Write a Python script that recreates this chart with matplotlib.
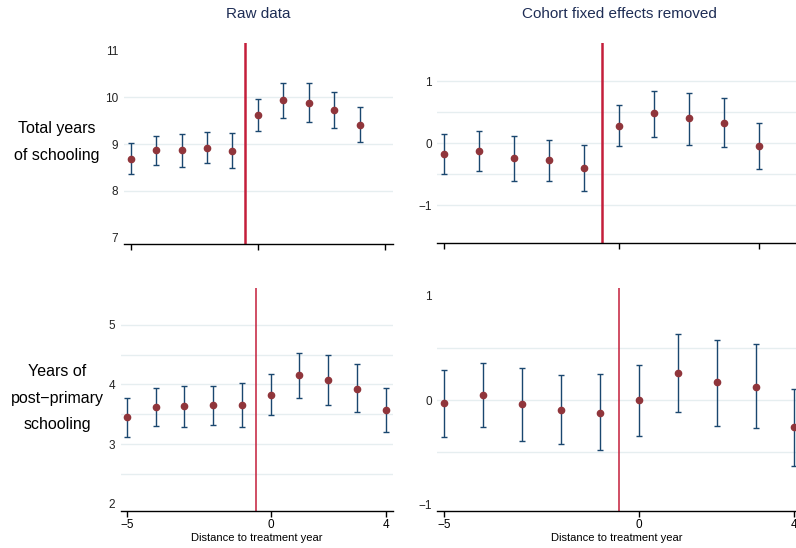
import numpy as np
import matplotlib
matplotlib.use("Agg")
import matplotlib.pyplot as plt

plt.rcParams['font.family'] = ['Liberation Sans', 'DejaVu Sans']

# event time
years = np.arange(-5, 5)

# raw data, total years of schooling
raw_school = [8.69, 8.87, 8.87, 8.92, 8.86, 9.62, 9.94, 9.88, 9.73, 9.42]
raw_school_hi = [9.02, 9.18, 9.22, 9.25, 9.23, 9.96, 10.32, 10.31, 10.12, 9.80]
raw_school_lo = [8.35, 8.55, 8.51, 8.59, 8.49, 9.28, 9.57, 9.47, 9.34, 9.05]

# cohort FE removed, total years of schooling
fe_school = [-0.17, -0.13, -0.24, -0.27, -0.39, 0.28, 0.48, 0.40, 0.33, -0.04]
fe_school_hi = [0.15, 0.19, 0.11, 0.06, -0.02, 0.62, 0.84, 0.81, 0.73, 0.33]
fe_school_lo = [-0.50, -0.44, -0.60, -0.60, -0.76, -0.05, 0.10, -0.02, -0.06, -0.41]

# raw data, post-primary schooling
raw_post = [3.45, 3.63, 3.64, 3.66, 3.66, 3.83, 4.16, 4.08, 3.93, 3.58]
raw_post_hi = [3.78, 3.94, 3.98, 3.98, 4.02, 4.17, 4.53, 4.49, 4.34, 3.94]
raw_post_lo = [3.12, 3.31, 3.29, 3.32, 3.29, 3.49, 3.78, 3.66, 3.54, 3.21]

# cohort FE removed, post-primary schooling
fe_post = [-0.03, 0.05, -0.04, -0.09, -0.12, 0.00, 0.26, 0.17, 0.13, -0.26]
fe_post_hi = [0.29, 0.36, 0.31, 0.24, 0.25, 0.34, 0.63, 0.58, 0.54, 0.11]
fe_post_lo = [-0.35, -0.26, -0.39, -0.42, -0.48, -0.34, -0.11, -0.25, -0.27, -0.63]

NAVY = '#1a476f'
MAROON = '#90353b'
RED = '#c41e3a'
GRID = '#e6eef0'

W, H = 796, 548
fig = plt.figure(figsize=(W / 100, H / 100), dpi=100)


def make_ax(left, right, top, bottom):
    return fig.add_axes([left / W, 1 - bottom / H, (right - left) / W, (bottom - top) / H])


def panel(ax, y, lo, hi, xlim, ylim, yticks, grid, xticks, xlabels, lw_red):
    y = np.array(y)
    err = [y - np.array(lo), np.array(hi) - y]
    ax.set_xlim(*xlim)
    ax.set_ylim(*ylim)
    for g in grid:
        ax.axhline(g, color=GRID, lw=1.0, zorder=0)
    ax.axvline(-0.5, color=RED, lw=lw_red, zorder=1)
    ax.errorbar(years, y, yerr=err, fmt='none', ecolor=NAVY, elinewidth=1.0,
                capsize=2.3, capthick=1.0, zorder=2)
    ax.plot(years, y, 'o', color=MAROON, ms=4.5, zorder=3)
    for s in ['top', 'right', 'left']:
        ax.spines[s].set_visible(False)
    ax.spines['bottom'].set_linewidth(1.0)
    ax.set_yticks(yticks)
    ax.set_yticklabels([str(t).replace('-', '\u2212') for t in yticks])
    ax.tick_params(axis='y', length=0, pad=4, labelsize=8.5, colors='#222222')
    ax.set_xticks(xticks)
    if xlabels:
        ax.set_xticklabels([str(t).replace('-', '\u2212') for t in xticks])
        ax.set_xlabel('Distance to treatment year', fontsize=8, labelpad=1.5)
    else:
        ax.set_xticklabels([])
    ax.tick_params(axis='x', length=4, width=1.0, pad=2, labelsize=8.5)
    ax.patch.set_alpha(0)


ax1 = make_ax(124, 392.7, 43.3, 244)
panel(ax1, raw_school, raw_school_lo, raw_school_hi, (-5.26, 5.29), (6.86, 11.16),
      [7, 8, 9, 10, 11], [8, 9, 10], [-5, 0, 5], False, 1.8)

ax2 = make_ax(437.3, 796, 43.3, 243.3)
panel(ax2, fe_school, fe_school_lo, fe_school_hi, (-5.2, 5.05), (-1.61, 1.61),
      [-1, 0, 1], [-1, -0.5, 0, 0.5, 1], [-5, 0, 4], False, 1.8)

ax3 = make_ax(120.7, 392.7, 288.3, 511)
panel(ax3, raw_post, raw_post_lo, raw_post_hi, (-5.22, 4.25), (1.88, 5.61),
      [2, 3, 4, 5], [2.5, 3, 3.5, 4, 4.5, 5], [-5, 0, 4], True, 1.1)

ax4 = make_ax(437.3, 796, 288.3, 511)
panel(ax4, fe_post, fe_post_lo, fe_post_hi, (-5.18, 4.04), (-1.06, 1.07),
      [-1, 0, 1], [-0.5, 0, 0.5], [-5, 0, 4], True, 1.1)

# column titles
fig.text(258 / W, 1 - 14 / H, 'Raw data', ha='center', va='center',
         fontsize=11, color='#1e2d55')
fig.text(619 / W, 1 - 14 / H, 'Cohort fixed effects removed', ha='center', va='center',
         fontsize=11, color='#1e2d55')

# row labels
fig.text(57 / W, 1 - 142 / H, 'Total years\nof schooling', ha='center', va='center',
         fontsize=11.5, linespacing=2.0)
fig.text(57 / W, 1 - 398 / H, 'Years of\npost\u2212primary\nschooling', ha='center',
         va='center', fontsize=11.5, linespacing=2.0)

fig.savefig('out.png', dpi=100)
